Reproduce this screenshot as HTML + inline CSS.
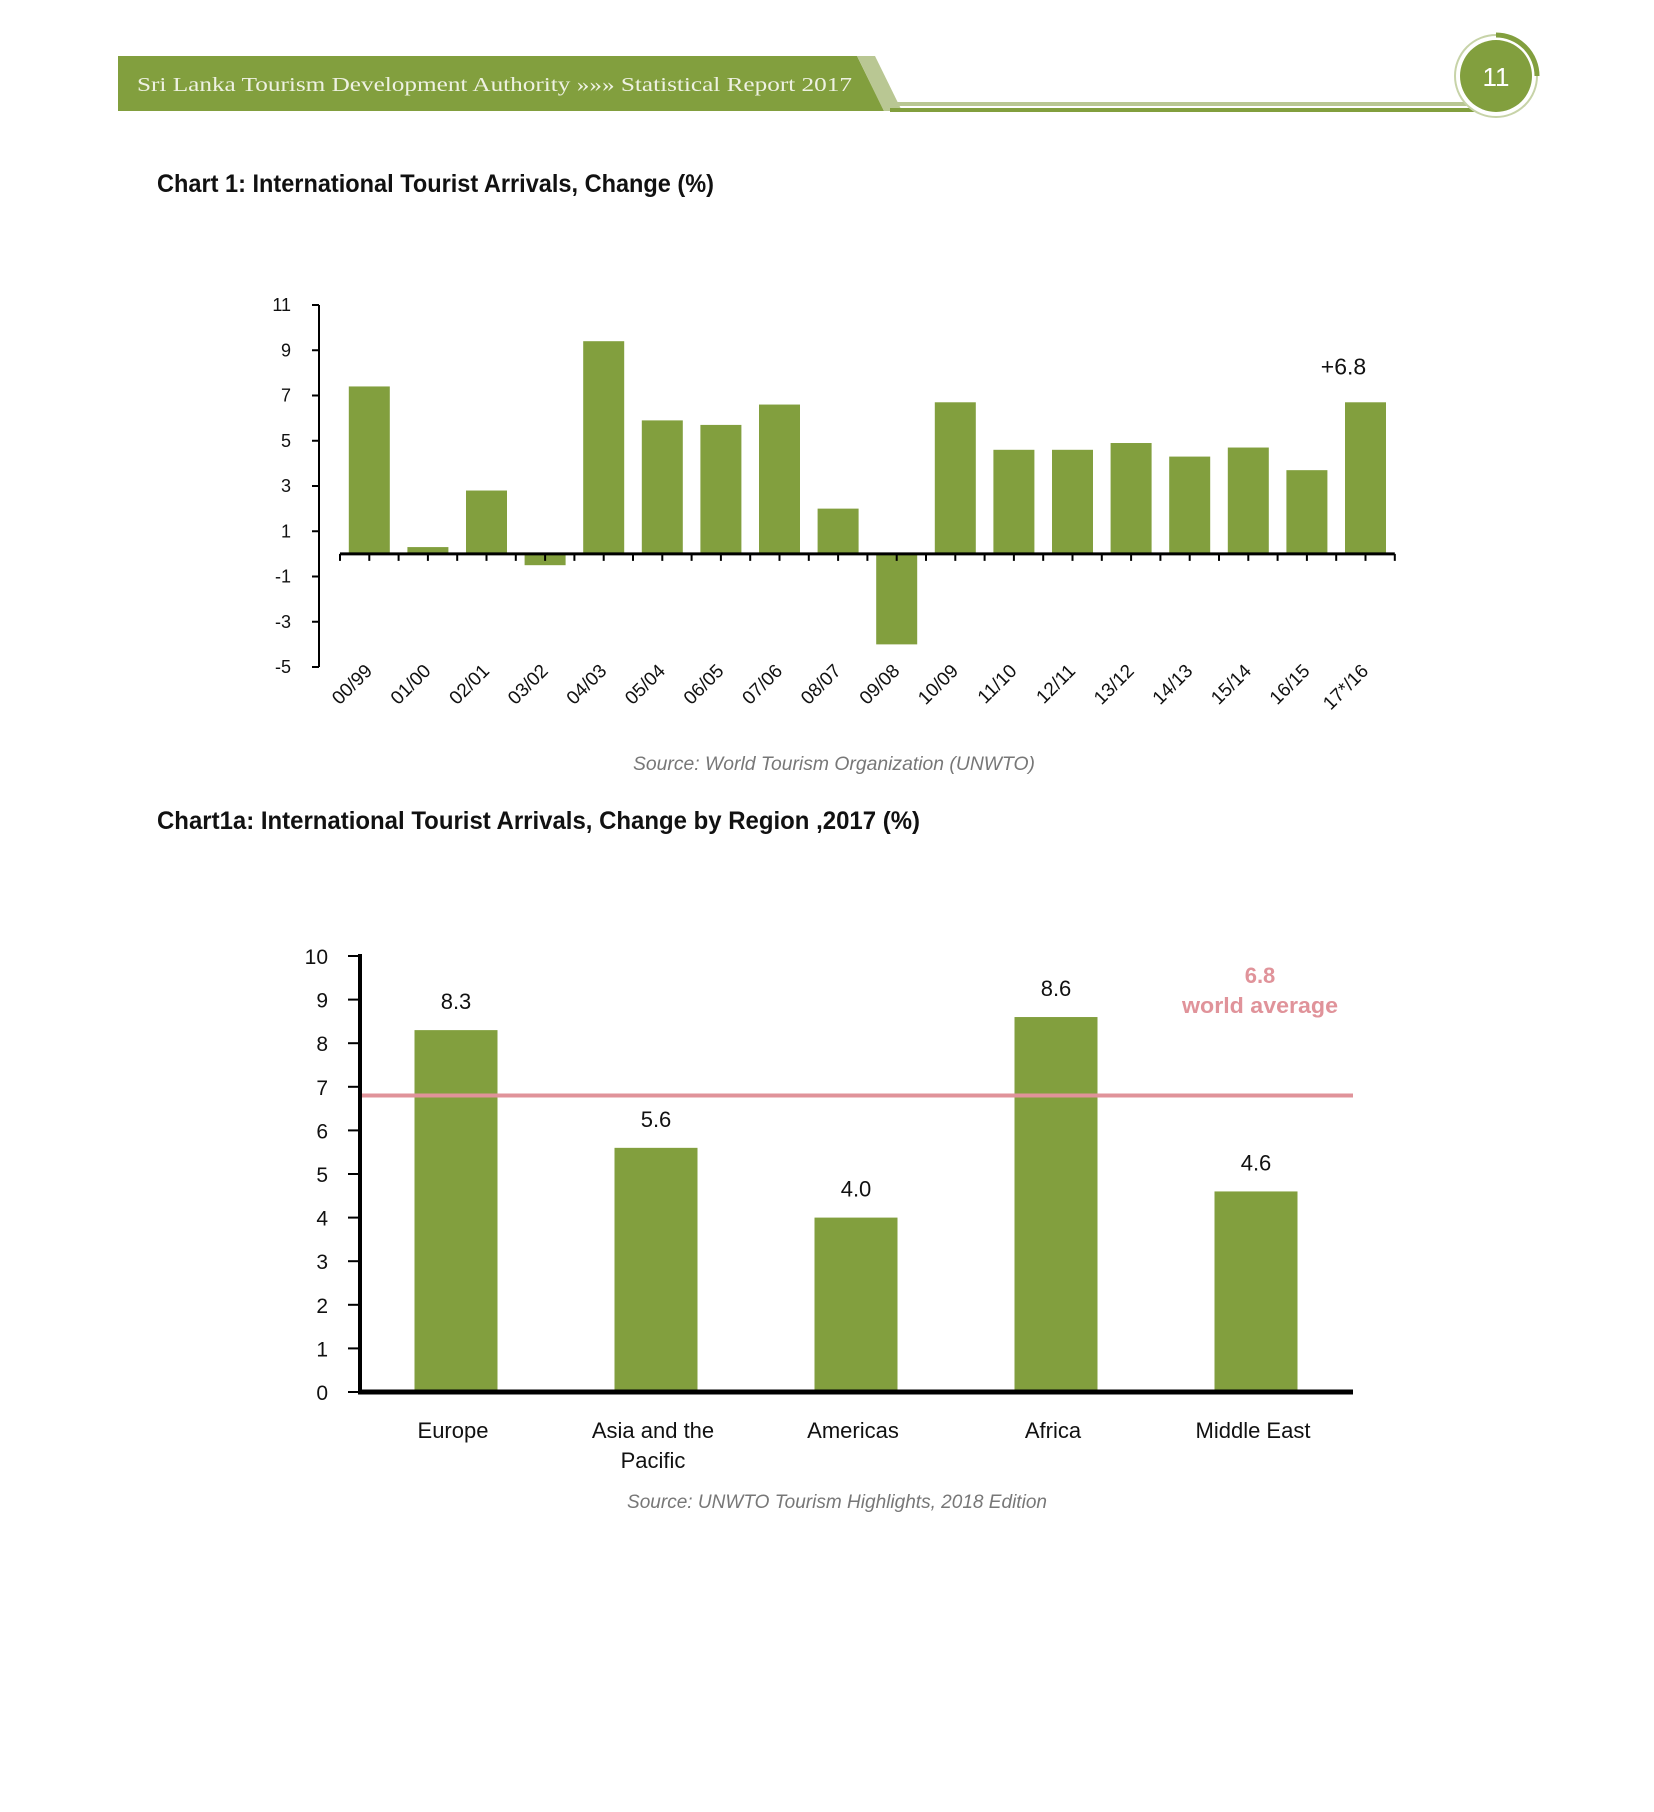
<!DOCTYPE html>
<html><head><meta charset="utf-8"><style>
html,body{margin:0;padding:0;background:#fff;}
svg{display:block;font-family:"Liberation Sans",sans-serif;}
</style></head><body>
<svg id="page" width="1654" height="1812" viewBox="0 0 1654 1812" xmlns="http://www.w3.org/2000/svg">
  <g>
    <polygon points="118,56 857,56 884,111 118,111" fill="#829f3e"/>
    <polygon points="857,56 875,56 902,111 884,111" fill="#b9c793"/>
    <rect x="895" y="102" width="575" height="4" fill="#b9c793"/>
    <rect x="890" y="108" width="585" height="4" fill="#829f3e"/>
    <text x="137" y="91" font-family="'Liberation Serif',serif" font-size="20" fill="#eef1e2" textLength="715" lengthAdjust="spacingAndGlyphs">Sri Lanka Tourism Development Authority  »»»  Statistical Report 2017</text>
  </g>
  <g>
    <circle cx="1496" cy="76" r="41" fill="#fff" stroke="#c7d3a8" stroke-width="2"/>
    <circle cx="1496" cy="76" r="36" fill="#829f3e"/>
    <path d="M1496,35 A41,41 0 0 1 1537,76" fill="none" stroke="#829f3e" stroke-width="5"/>
    <text x="1496" y="86" text-anchor="middle" font-size="26" fill="#fff">11</text>
  </g>
  <text x="157" y="192" font-size="25" font-weight="bold" fill="#111" textLength="557" lengthAdjust="spacingAndGlyphs">Chart 1: International Tourist Arrivals, Change (%)</text>
  <g id="chart1"></g>
  <text x="834" y="770" text-anchor="middle" font-size="19" font-style="italic" fill="#777" textLength="402" lengthAdjust="spacingAndGlyphs">Source: World Tourism Organization (UNWTO)</text>
  <text x="157" y="829" font-size="25" font-weight="bold" fill="#111" textLength="763" lengthAdjust="spacingAndGlyphs">Chart1a: International Tourist Arrivals, Change by Region ,2017 (%)</text>
  <g id="chart2"></g>
  <text x="837" y="1508" text-anchor="middle" font-size="19" font-style="italic" fill="#777" textLength="420" lengthAdjust="spacingAndGlyphs">Source: UNWTO Tourism Highlights, 2018 Edition</text>
</svg>
<script>
const c1Categories = ["00/99","01/00","02/01","03/02","04/03","05/04","06/05","07/06","08/07","09/08","10/09","11/10","12/11","13/12","14/13","15/14","16/15","17*/16"];
const c1Values = [7.4,0.3,2.8,-0.5,9.4,5.9,5.7,6.6,2.0,-4.0,6.7,4.6,4.6,4.9,4.3,4.7,3.7,6.7];
const c1Ticks = [11,9,7,5,3,1,-1,-3,-5];
const c1Callout = "+6.8";
const c2Categories = [["Europe"],["Asia and the","Pacific"],["Americas"],["Africa"],["Middle East"]];
const c2Values = [8.3,5.6,4.0,8.6,4.6];
const c2Labels = ["8.3","5.6","4.0","8.6","4.6"];
const c2Ticks = [0,1,2,3,4,5,6,7,8,9,10];
const c2Average = [6.8];

const NS = "http://www.w3.org/2000/svg";
function mk(parent, tag, attrs, text) {
  const el = document.createElementNS(NS, tag);
  for (const k in attrs) el.setAttribute(k, attrs[k]);
  if (text !== undefined) el.textContent = text;
  parent.appendChild(el);
  return el;
}
const GREEN = "#829f3e";

// Chart 1
(function(){
  const g = document.getElementById("chart1");
  const yTop = 305, yBot = 667, vMax = 11, vMin = -5;
  const y = v => yTop + (vMax - v) * (yBot - yTop) / (vMax - vMin);
  const x0 = 340, bw = 58.6;
  const xc = i => x0 + bw * (i + 0.5);
  const axisX = 319;
  let e = mk(g, "line", {x1: axisX, y1: yTop, x2: axisX, y2: yBot, stroke: "#000", "stroke-width": 2});
  
  
  c1Ticks.forEach(t => {
    const tl = mk(g, "line", {x1: axisX - 7, y1: y(t), x2: axisX, y2: y(t), stroke: "#000", "stroke-width": 2});
    
    
    const tx = mk(g, "text", {x: 291, y: y(t) + 6, "text-anchor": "end", "font-size": 18, fill: "#111"}, String(t));
    
    
  });
  c1Values.forEach((v, i) => {
    const w = 41;
    const top = Math.min(y(v), y(0)), h = Math.abs(y(v) - y(0));
    const r = mk(g, "rect", {x: xc(i) - w / 2, y: top, width: w, height: h, fill: GREEN});
    
    
    const cx = xc(i) + 4, cy = 672;
    const t = mk(g, "text", {x: cx, y: cy, "text-anchor": "end", "font-size": 19, fill: "#111", transform: "rotate(-45 " + cx + " " + cy + ")"}, c1Categories[i]);
    
    
  });
  const xa = mk(g, "line", {x1: x0, y1: y(0), x2: x0 + bw * c1Categories.length, y2: y(0), stroke: "#000", "stroke-width": 3});
  
  
  for (let k = 0; k <= c1Categories.length * 2; k++) {
    const tx = x0 + k * bw / 2;
    const tk = mk(g, "line", {x1: tx, y1: y(0), x2: tx, y2: y(0) + 7, stroke: "#000", "stroke-width": 2});
    
    
  }
  const last = c1Values.length - 1;
  const cl = mk(g, "text", {x: xc(last) - 22, y: y(c1Values[last]) - 28, "text-anchor": "middle", "font-size": 23, fill: "#111"}, c1Callout);
  
  
})();

// Chart 2
(function(){
  const g = document.getElementById("chart2");
  const y0 = 1392, unit = 43.6;
  const y = v => y0 - v * unit;
  const xs = 356, bw = 200;
  const xc = i => xs + bw * (i + 0.5);
  const axisX = 360, xEnd = 1353;
  c2Ticks.forEach(t => {
    const tl = mk(g, "line", {x1: axisX - 12, y1: y(t), x2: axisX, y2: y(t), stroke: "#000", "stroke-width": 2});
    
    
    const tx = mk(g, "text", {x: 328, y: y(t) + 8, "text-anchor": "end", "font-size": 21, fill: "#111"}, String(t));
    
    
  });
  c2Values.forEach((v, i) => {
    const w = 83;
    const r = mk(g, "rect", {x: xc(i) - w / 2, y: y(v), width: w, height: y(0) - y(v), fill: GREEN});
    
    
    const vl = mk(g, "text", {x: xc(i), y: y(v) - 21, "text-anchor": "middle", "font-size": 22, fill: "#111"}, c2Labels[i]);
    
    
    c2Categories[i].forEach((line, j) => {
      const cl = mk(g, "text", {x: xc(i) - 3, y: 1438 + j * 30, "text-anchor": "middle", "font-size": 22, fill: "#111"}, line);
      
      
    });
  });
  const ya = mk(g, "line", {x1: axisX, y1: y(10) - 2, x2: axisX, y2: y0 + 2, stroke: "#000", "stroke-width": 4});
  
  
  const xa = mk(g, "line", {x1: axisX - 2, y1: y0, x2: xEnd, y2: y0, stroke: "#000", "stroke-width": 5});
  
  
  const av = c2Average[0];
  const al = mk(g, "line", {x1: axisX + 2, y1: y(av), x2: xEnd, y2: y(av), stroke: "#e0939a", "stroke-width": 4});
  
  
  const at = mk(g, "text", {x: 1260, y: 983, "text-anchor": "middle", "font-size": 22, "font-weight": "bold", fill: "#e0939a"}, av.toFixed(1));
  
  
  const at2 = mk(g, "text", {x: 1260, y: 1013, "text-anchor": "middle", "font-size": 22, "font-weight": "bold", fill: "#e0939a", textLength: 156, lengthAdjust: "spacingAndGlyphs"}, "world average");
  
  
})();
</script>
</body></html>
